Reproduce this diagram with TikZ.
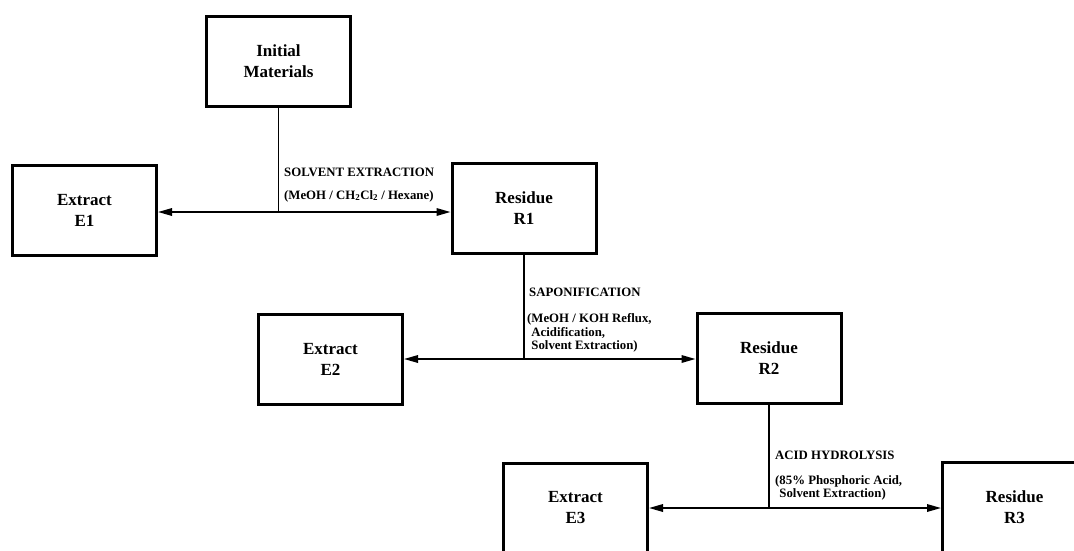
\documentclass[tikz,border=0pt]{standalone}
\usepackage{fontspec}
\setmainfont{Liberation Serif}
\usetikzlibrary{arrows.meta}
\begin{document}
\begin{tikzpicture}[x=1pt,y=-1pt,
  stagebox/.style={draw, line width=3pt, minimum width=144pt, minimum height=90pt,
    align=center, inner sep=0pt, font=\fontsize{17}{21}\selectfont\bfseries},
  lab/.style={inner sep=0pt, anchor=west, align=left,
    font=\fontsize{12.8}{13.2}\selectfont\bfseries},
  conn/.style={line width=1.7pt},
  arr/.style={conn, -{Triangle[length=14pt,width=7.5pt]}}]
\useasboundingbox (0,0) rectangle (1074,550);
\clip (0,0) rectangle (1074,550);
% boxes
\node[stagebox] (init) at (278.5,61) {Initial\\Materials};
\node[stagebox] (E1) at (84.5,210) {Extract\\E1};
\node[stagebox] (R1) at (524,208.5) {Residue\\R1};
\node[stagebox] (E2) at (330.5,359) {Extract\\E2};
\node[stagebox] (R2) at (769,358) {Residue\\R2};
\node[stagebox] (E3) at (575.5,508) {Extract\\E3};
\node[stagebox] (R3) at (1014.5,507) {Residue\\R3};
% junctions
\coordinate (j1) at (init.south |- 0,212);
\coordinate (j2) at (R1.south |- 0,359);
\coordinate (j3) at (R2.south |- 0,508);
% connectors
\draw[conn] (init.south) -- (j1);
\draw[arr] (j1) -- (E1.east |- j1);
\draw[arr] (j1) -- (R1.west |- j1);
\draw[conn] (R1.south) -- (j2);
\draw[arr] (j2) -- (E2.east |- j2);
\draw[arr] (j2) -- (R2.west |- j2);
\draw[conn] (R2.south) -- (j3);
\draw[arr] (j3) -- (E3.east |- j3);
\draw[arr] (j3) -- (R3.west |- j3);
% labels
\node[lab] (l1a) at (284,172) {SOLVENT EXTRACTION};
\node[lab] (l1b) at (284,196) {(MeOH / CH\textsubscript{2}Cl\textsubscript{2} / Hexane)};
\node[lab] (l2a) at (529,292) {SAPONIFICATION};
\node[lab] (l2b) at (527,333) {(MeOH / KOH Reflux,\\\hphantom{(}Acidification,\\\hphantom{(}Solvent Extraction)};
\node[lab] (l3a) at (775,455) {ACID HYDROLYSIS};
\node[lab] (l3b) at (775,488) {(85\% Phosphoric Acid,\\\hphantom{(}Solvent Extraction)};
\end{tikzpicture}
\end{document}
